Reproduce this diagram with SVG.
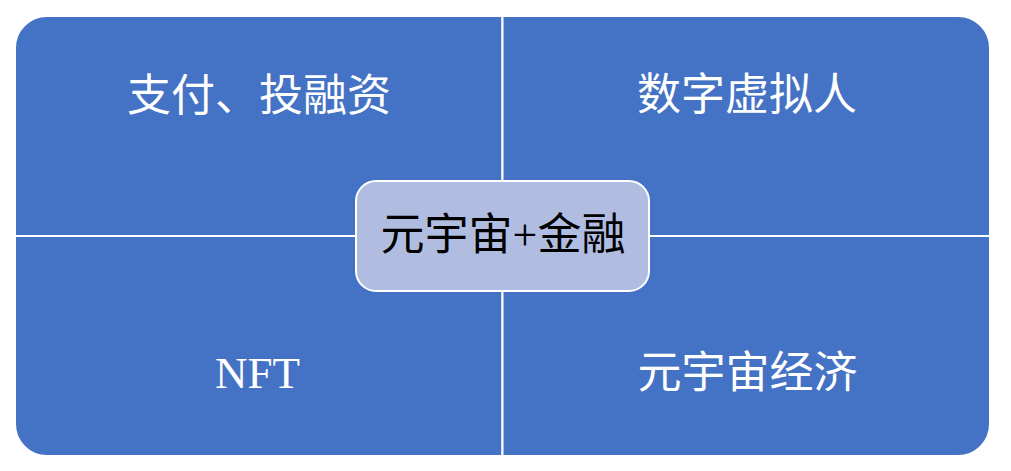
<svg xmlns="http://www.w3.org/2000/svg" width="1011" height="471" viewBox="0 0 1011 471">
  <style>
    .quad { fill: #4472C4; stroke: #FFFFFF; stroke-width: 2; }
    .center { fill: #B0BDE0; stroke: #FFFFFF; stroke-width: 2; }
    .cjk { font-family: "Liberation Serif", "Noto Sans CJK SC", serif; font-size: 44px; text-anchor: middle; dominant-baseline: central; }
    .lat { font-family: "Liberation Serif", serif; font-size: 45px; text-anchor: middle; }
    .white { fill: #FFFFFF; }
    .black { fill: #000000; }
  </style>
  <rect width="1011" height="471" fill="#FFFFFF"/>
  <g id="q-top-left">
    <path class="quad" d="M15,236 L15,48 A32,32 0 0 1 47,16 L502.5,16 L502.5,236 Z"/>
    <text class="cjk white" x="259" y="96">支付、投融资</text>
  </g>
  <g id="q-top-right">
    <path class="quad" d="M502.5,16 L958,16 A32,32 0 0 1 990,48 L990,236 L502.5,236 Z"/>
    <text class="cjk white" x="747" y="95">数字虚拟人</text>
  </g>
  <g id="q-bottom-left">
    <path class="quad" d="M15,236 L502.5,236 L502.5,456 L47,456 A32,32 0 0 1 15,424 Z"/>
    <text class="lat white" x="257.5" y="388">NFT</text>
  </g>
  <g id="q-bottom-right">
    <path class="quad" d="M502.5,236 L990,236 L990,424 A32,32 0 0 1 958,456 L502.5,456 Z"/>
    <text class="cjk white" x="747.5" y="373">元宇宙经济</text>
  </g>
  <g id="connectors"></g>
  <g id="center">
    <rect class="center" x="356" y="181" width="293" height="110" rx="20" ry="20"/>
    <text class="cjk black" x="503" y="235">元宇宙+金融</text>
  </g>
</svg>
